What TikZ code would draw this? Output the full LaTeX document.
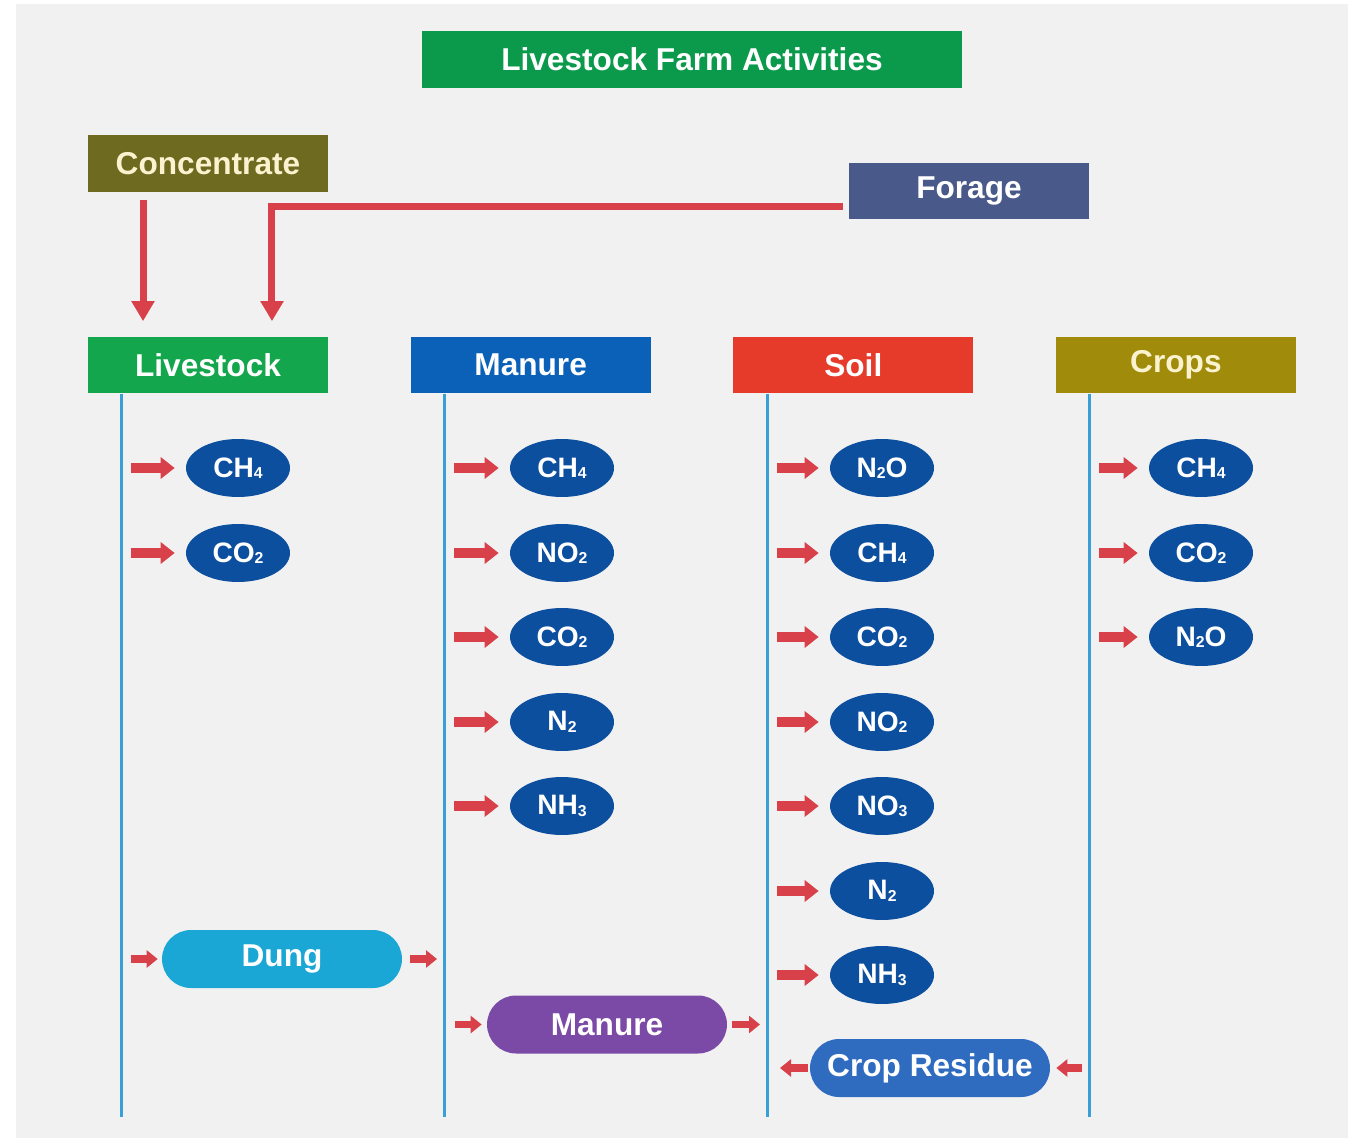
\documentclass[tikz,border=0pt]{standalone}
\usepackage{fontspec}
\setmainfont{Liberation Sans}
\usepackage{tikz}
\usetikzlibrary{positioning, arrows.meta, shapes.geometric}

\definecolor{bggray}{HTML}{F1F1F1}
\definecolor{titlegreen}{HTML}{0B9A4B}
\definecolor{concolive}{HTML}{6E6A1F}
\definecolor{forageblue}{HTML}{48598A}
\definecolor{livegreen}{HTML}{13A64C}
\definecolor{manureblue}{HTML}{0B61B8}
\definecolor{soilred}{HTML}{E63A2B}
\definecolor{cropolive}{HTML}{A08C0A}
\definecolor{lineblue}{HTML}{3A9FD6}
\definecolor{gasblue}{HTML}{0C4F9F}
\definecolor{arrowred}{HTML}{D9414A}
\definecolor{dungcyan}{HTML}{1AA7D5}
\definecolor{manpurple}{HTML}{7A4AA6}
\definecolor{residueblue}{HTML}{2F6CC0}
\definecolor{cream}{HTML}{FBF3CF}

\newcommand{\gsub}[1]{\raisebox{-0.8pt}{\fontsize{9}{9}\selectfont #1}}

\begin{document}
\begin{tikzpicture}[
	x=0.02cm, y=-0.02cm,
	node distance=1.64cm,
	head/.style={
		rectangle,
		minimum width=4.8cm,
		minimum height=1.14cm,
		inner sep=0pt,
		text=white,
		font=\fontsize{18}{20}\selectfont\bfseries
	},
	gas/.style={
		ellipse,
		fill=gasblue,
		minimum width=2.08cm,
		minimum height=1.16cm,
		inner sep=0pt,
		text=white,
		font=\fontsize{16}{18}\selectfont\bfseries
	},
	pill/.style={
		rectangle,
		rounded corners=0.58cm,
		minimum width=4.8cm,
		minimum height=1.16cm,
		inner sep=0pt,
		text=white,
		font=\fontsize{18}{20}\selectfont\bfseries
	},
	column/.style={
		line width=0.06cm,
		lineblue
	},
	feed/.style={
		-{Triangle[length=0.4cm,width=0.44cm]},
		line width=0.14cm,
		arrowred
	},
	emit/.style={
		-{Triangle[length=0.28cm,width=0.42cm]},
		line width=0.2cm,
		arrowred,
		shorten <=0.2cm,
		shorten >=0.22cm
	},
	pass/.style={
		-{Triangle[length=0.22cm,width=0.34cm]},
		line width=0.15cm,
		arrowred
	}
	]
	\useasboundingbox (0,0) rectangle (1348,1138);
	\fill[bggray] (16,4) rectangle (1348,1138);
	
	% top boxes
	\node[head, fill=titlegreen, minimum width=10.8cm] (title) at (692,59.5) {Livestock Farm Activities};
	\node[head, fill=concolive, text=cream] (conc) at (208,163.5) {Concentrate};
	\node[head, fill=forageblue] (forage) at (969,191) {Forage};
	
	% column headers
	\node[head, fill=livegreen] (live) at (208,365) {Livestock};
	\node[head, fill=manureblue, right=of live] (manure) {Manure};
	\node[head, fill=soilred, right=of manure] (soil) {Soil};
	\node[head, fill=cropolive, text=cream, right=of soil] (crops) {Crops};
	
	\draw[feed] ([xshift=-1.3cm,yshift=-0.16cm]conc.south)
	-- ([xshift=-1.3cm,yshift=0.3cm]live.north);
	\draw[feed] ([xshift=-0.12cm,yshift=-0.32cm]forage.west)
	-| ([xshift=1.28cm,yshift=0.3cm]live.north);
	
	% column lines
	\coordinate (c1) at (121,1117);
	\coordinate (c2) at (444,1117);
	\coordinate (c3) at (767,1117);
	\coordinate (c4) at (1089,1117);
	\draw[column] (live.south -| c1) -- (c1);
	\draw[column] (manure.south -| c2) -- (c2);
	\draw[column] (soil.south -| c3) -- (c3);
	\draw[column] (crops.south -| c4) -- (c4);
	
	% emissions
	\node[gas] (l1) at (238,468) {CH\gsub{4}};
	\node[gas] (l2) at (238,553) {CO\gsub{2}};
	
	\node[gas] (m1) at (562,468) {CH\gsub{4}};
	\node[gas] (m2) at (562,553) {NO\gsub{2}};
	\node[gas] (m3) at (562,637) {CO\gsub{2}};
	\node[gas] (m4) at (562,722) {N\gsub{2}};
	\node[gas] (m5) at (562,806) {NH\gsub{3}};
	
	\node[gas] (s1) at (882,468) {N\gsub{2}O};
	\node[gas] (s2) at (882,553) {CH\gsub{4}};
	\node[gas] (s3) at (882,637) {CO\gsub{2}};
	\node[gas] (s4) at (882,722) {NO\gsub{2}};
	\node[gas] (s5) at (882,806) {NO\gsub{3}};
	\node[gas] (s6) at (882,891) {N\gsub{2}};
	\node[gas] (s7) at (882,975) {NH\gsub{3}};
	
	\node[gas] (k1) at (1201,468) {CH\gsub{4}};
	\node[gas] (k2) at (1201,553) {CO\gsub{2}};
	\node[gas] (k3) at (1201,637) {N\gsub{2}O};
	
	\draw[emit] (l1 -| c1) -- (l1);
	\draw[emit] (l2 -| c1) -- (l2);
	\draw[emit] (m1 -| c2) -- (m1);
	\draw[emit] (m2 -| c2) -- (m2);
	\draw[emit] (m3 -| c2) -- (m3);
	\draw[emit] (m4 -| c2) -- (m4);
	\draw[emit] (m5 -| c2) -- (m5);
	\draw[emit] (s1 -| c3) -- (s1);
	\draw[emit] (s2 -| c3) -- (s2);
	\draw[emit] (s3 -| c3) -- (s3);
	\draw[emit] (s4 -| c3) -- (s4);
	\draw[emit] (s5 -| c3) -- (s5);
	\draw[emit] (s6 -| c3) -- (s6);
	\draw[emit] (s7 -| c3) -- (s7);
	\draw[emit] (k1 -| c4) -- (k1);
	\draw[emit] (k2 -| c4) -- (k2);
	\draw[emit] (k3 -| c4) -- (k3);
	
	% flows between columns
	\node[pill, fill=dungcyan] (dung) at (282,959) {Dung};
	\node[pill, fill=manpurple] (manpill) at (607,1024.5) {Manure};
	\node[pill, fill=residueblue] (residue) at (930,1068) {Crop Residue};
	
	\draw[pass, shorten <=0.2cm, shorten >=0.08cm] (dung -| c1) -- (dung);
	\draw[pass, shorten <=0.16cm, shorten >=0.14cm] (dung) -- (dung -| c2);
	\draw[pass, shorten <=0.22cm, shorten >=0.1cm] (manpill -| c2) -- (manpill);
	\draw[pass, shorten <=0.1cm, shorten >=0.14cm] (manpill) -- (manpill -| c3);
	\draw[pass, shorten <=0.04cm, shorten >=0.26cm] (residue) -- (residue -| c3);
	\draw[pass, shorten <=0.14cm, shorten >=0.12cm] (residue -| c4) -- (residue);
\end{tikzpicture}
\end{document}
